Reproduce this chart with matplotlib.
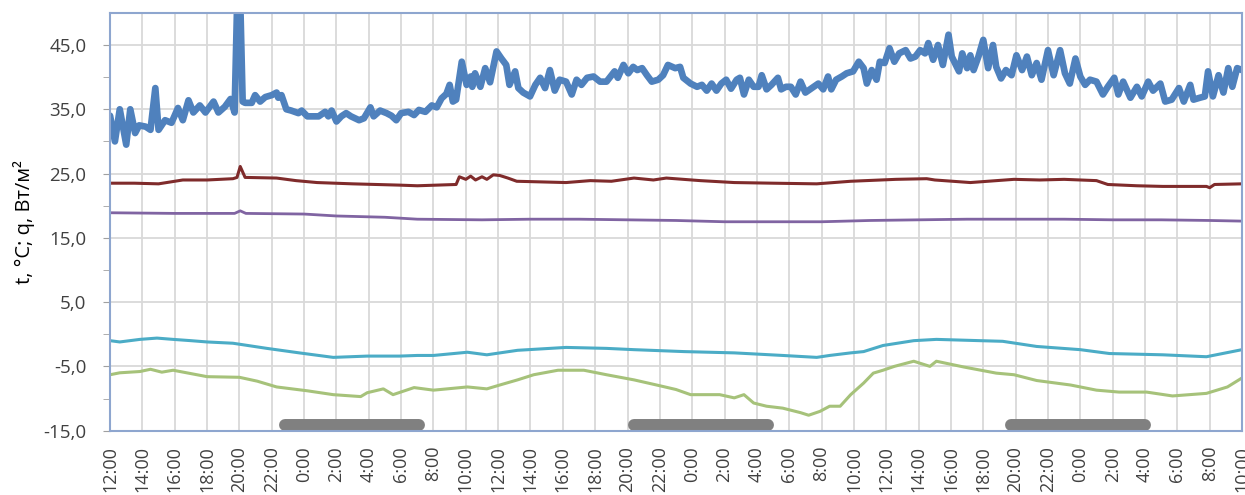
"""Температура и тепловой поток за трое суток (восстановление графика)."""

import matplotlib
matplotlib.use("Agg")
import matplotlib.pyplot as plt
from matplotlib.ticker import MultipleLocator

# --- данные: время в часах от 12:00 первого дня ---
blue_h = [0.0, 0.3, 0.6, 1.0, 1.25, 1.55, 1.8, 2.2, 2.5, 2.8, 3.0, 3.4, 3.8, 4.2, 4.5, 4.85,
          5.15, 5.55, 5.9, 6.4, 6.7, 7.1, 7.45, 7.7, 7.9, 8.05, 8.2, 8.35, 8.76, 8.97, 9.28,
          9.6, 10.0, 10.3, 10.4, 10.6, 10.9, 11.2, 11.65, 11.85, 12.2, 12.6, 12.9, 13.3, 13.5,
          13.7, 14.0, 14.3, 14.6, 14.9, 15.4, 15.7, 16.1, 16.3, 16.7, 17.1, 17.4, 17.7, 18.0,
          18.45, 18.8, 19.1, 19.5, 19.9, 20.2, 20.5, 20.8, 21.0, 21.2, 21.4, 21.75, 22.05,
          22.3, 22.4, 22.57, 22.9, 23.2, 23.5, 23.9, 24.2, 24.5, 24.7, 25.05, 25.25, 25.55,
          25.97, 26.3, 26.6, 26.9, 27.2, 27.5, 27.8, 28.2, 28.55, 28.85, 29.15, 29.5, 29.9,
          30.3, 30.7, 31.2, 31.4, 31.75, 32.05, 32.35, 32.6, 32.9, 33.2, 33.5, 33.9, 34.2,
          34.5, 34.95, 35.25, 35.45, 35.9, 36.3, 36.6, 36.9, 37.2, 37.5, 37.8, 38.1, 38.4,
          38.75, 38.95, 39.2, 39.5, 39.8, 40.1, 40.3, 40.6, 40.9, 41.3, 41.5, 41.8, 42.1,
          42.4, 42.7, 43.0, 43.4, 43.8, 44.1, 44.4, 44.6, 44.9, 45.25, 45.55, 45.95, 46.3,
          46.6, 46.8, 47.1, 47.4, 47.6, 47.9, 48.2, 48.5, 48.8, 49.2, 49.5, 49.8, 50.1, 50.4,
          50.6, 50.9, 51.2, 51.5, 51.85, 52.05, 52.5, 52.7, 53.0, 53.2, 53.4, 53.7, 54.0,
          54.3, 54.6, 54.8, 55.1, 55.4, 55.75, 56.05, 56.4, 56.7, 57.0, 57.3, 57.6, 58.0,
          58.35, 58.75, 59.05, 59.35, 59.7, 60.0, 60.3, 60.6, 61.0, 61.4, 61.7, 62.1, 62.35,
          62.65, 63.1, 63.5, 63.8, 64.2, 64.5, 64.95, 65.25, 65.65, 66.1, 66.4, 66.8, 67.0,
          67.4, 67.7, 67.9, 68.2, 68.55, 68.85, 69.15, 69.4, 69.7, 70.0]
blue_v = [34.0, 30.0, 35.0, 29.5, 35.0, 31.3, 32.5, 32.3, 31.8, 38.3, 31.8, 33.3, 32.9, 35.2,
          33.3, 36.4, 34.5, 35.6, 34.5, 36.2, 34.5, 35.4, 36.6, 34.5, 56.0, 52.0, 36.2, 36.0,
          36.0, 37.2, 36.2, 36.9, 37.2, 37.6, 36.8, 37.2, 35.0, 34.8, 34.4, 34.8, 33.9, 33.9,
          33.9, 34.6, 33.9, 34.8, 33.1, 33.9, 34.4, 33.9, 33.3, 33.6, 35.3, 33.9, 34.8, 34.4,
          34.0, 33.3, 34.4, 34.6, 34.1, 34.9, 34.6, 35.6, 35.3, 36.7, 37.4, 38.8, 36.2, 36.5,
          42.4, 38.8, 40.1, 38.5, 40.6, 38.5, 41.4, 39.2, 44.0, 42.9, 41.9, 38.8, 40.9, 38.3,
          37.6, 37.0, 38.8, 39.9, 38.3, 41.1, 37.9, 39.6, 39.3, 37.3, 39.6, 38.8, 39.9, 40.1,
          39.3, 39.3, 40.9, 39.9, 41.9, 40.6, 41.6, 41.1, 41.4, 40.3, 39.3, 39.6, 40.3, 41.9,
          41.4, 41.6, 39.9, 39.0, 38.5, 38.8, 37.9, 39.0, 37.9, 39.0, 39.6, 38.2, 39.6, 39.9,
          37.3, 39.6, 38.5, 38.5, 40.3, 38.1, 38.8, 39.9, 38.1, 38.5, 38.5, 37.3, 39.3, 37.6,
          38.3, 39.0, 38.1, 40.1, 38.1, 39.6, 40.1, 40.6, 40.9, 42.4, 41.4, 39.0, 41.1, 39.6,
          42.4, 42.2, 44.5, 42.4, 43.7, 44.2, 42.9, 43.2, 44.2, 43.7, 45.3, 42.7, 45.0, 41.9,
          46.6, 43.2, 40.9, 43.7, 41.4, 43.4, 41.1, 43.2, 45.8, 41.4, 45.0, 41.6, 39.8, 41.1,
          40.3, 43.4, 41.1, 43.2, 40.3, 42.2, 39.6, 44.2, 40.3, 44.2, 40.6, 39.0, 42.9, 40.1,
          38.8, 39.6, 39.3, 37.3, 38.5, 39.9, 37.3, 39.3, 36.8, 38.5, 37.0, 39.3, 37.9, 39.0,
          36.2, 36.5, 38.3, 36.2, 38.8, 36.5, 36.8, 37.0, 40.9, 37.0, 40.3, 37.6, 41.4, 38.5,
          41.4, 41.1]

red_h = [0.0, 1.5, 3.0, 4.5, 6.0, 7.6, 7.85, 8.05, 8.35, 10.3, 11.5, 12.8, 15.0, 17.9, 19.0,
         21.4, 21.6, 22.0, 22.3, 22.6, 23.0, 23.3, 23.7, 24.1, 24.6, 25.15, 28.2, 29.7, 31.0,
         32.4, 33.6, 34.4, 36.5, 38.6, 41.0, 43.7, 45.8, 48.6, 50.5, 51.0, 53.2, 55.9, 57.5,
         59.0, 61.0, 61.7, 63.5, 65.1, 67.8, 68.0, 68.3, 70.0]
red_v = [23.5, 23.5, 23.4, 24.0, 24.0, 24.2, 24.4, 26.1, 24.4, 24.3, 23.9, 23.6, 23.4, 23.2,
         23.1, 23.3, 24.5, 24.1, 24.6, 24.0, 24.5, 24.1, 24.8, 24.7, 24.3, 23.8, 23.6, 23.9,
         23.8, 24.3, 24.0, 24.3, 23.9, 23.6, 23.5, 23.4, 23.8, 24.1, 24.2, 24.0, 23.6, 24.1,
         24.0, 24.1, 23.9, 23.3, 23.1, 23.0, 23.0, 22.8, 23.3, 23.4]

purple_h = [0.0, 4.0, 7.7, 8.05, 8.4, 12.0, 14.0, 17.0, 19.0, 23.0, 26.0, 29.0, 32.0, 35.0,
            38.0, 41.0, 44.0, 47.0, 50.0, 53.0, 56.0, 59.0, 62.0, 65.0, 68.0, 70.0]
purple_v = [18.9, 18.8, 18.8, 19.2, 18.8, 18.7, 18.4, 18.2, 17.9, 17.8, 17.9, 17.9, 17.8, 17.7,
            17.5, 17.5, 17.5, 17.7, 17.8, 17.9, 17.9, 17.9, 17.8, 17.8, 17.7, 17.6]

cyan_h = [0.0, 0.6, 1.85, 2.9, 3.9, 5.0, 6.0, 7.6, 9.7, 11.7, 13.8, 15.9, 17.9, 19.0, 20.0,
          22.1, 23.3, 25.2, 28.2, 30.7, 32.4, 35.5, 38.6, 41.6, 43.7, 44.5, 45.8, 46.6, 47.8,
          49.7, 51.1, 53.8, 55.2, 57.3, 60.0, 61.8, 65.1, 67.8, 70.0]
cyan_v = [-1.0, -1.2, -0.8, -0.6, -0.8, -1.0, -1.2, -1.4, -2.2, -2.9, -3.6, -3.4, -3.4, -3.3,
          -3.3, -2.8, -3.2, -2.5, -2.05, -2.2, -2.4, -2.7, -2.9, -3.3, -3.6, -3.3, -2.9, -2.7,
          -1.75, -1.0, -0.8, -1.0, -1.1, -1.9, -2.4, -3.0, -3.2, -3.5, -2.4]

green_h = [0.0, 0.6, 1.85, 2.5, 3.2, 3.9, 6.0, 8.0, 9.1, 10.3, 12.2, 13.8, 15.5, 15.9, 16.9,
           17.5, 18.8, 20.0, 22.1, 23.3, 24.1, 25.2, 26.2, 27.7, 29.3, 30.7, 32.4, 33.8, 35.0,
           35.9, 37.7, 38.6, 39.2, 39.8, 40.6, 41.6, 42.7, 43.2, 43.9, 44.5, 45.15, 45.8,
           46.6, 47.2, 47.8, 48.5, 49.7, 50.7, 51.1, 52.8, 54.8, 55.9, 57.3, 59.4, 61.0, 62.4,
           64.1, 65.7, 67.8, 69.1, 70.0]
green_v = [-6.3, -6.0, -5.8, -5.45, -5.9, -5.6, -6.6, -6.7, -7.3, -8.2, -8.8, -9.4, -9.7, -9.1,
           -8.5, -9.4, -8.3, -8.7, -8.2, -8.5, -7.9, -7.1, -6.3, -5.6, -5.6, -6.3, -7.1, -7.9,
           -8.6, -9.4, -9.4, -9.9, -9.4, -10.7, -11.2, -11.5, -12.2, -12.6, -12.0, -11.2,
           -11.2, -9.4, -7.6, -6.05, -5.6, -5.0, -4.2, -5.0, -4.2, -5.1, -6.05, -6.3, -7.2,
           -7.9, -8.7, -9.0, -9.0, -9.6, -9.2, -8.2, -6.8]

# ночные периоды (серые полосы), часы от начала
night_start = [10.8, 32.4, 55.7]
night_end = [19.1, 40.7, 64.0]

tick_hours = list(range(0, 71, 2))
tick_labels = ["12:00", "14:00", "16:00", "18:00", "20:00", "22:00", "0:00", "2:00", "4:00",
               "6:00", "8:00", "10:00", "12:00", "14:00", "16:00", "18:00", "20:00", "22:00",
               "0:00", "2:00", "4:00", "6:00", "8:00", "10:00", "12:00", "14:00", "16:00",
               "18:00", "20:00", "22:00", "0:00", "2:00", "4:00", "6:00", "8:00", "10:00"]

plt.rcParams["font.family"] = ["Open Sans", "DejaVu Sans"]
text_color = "#404040"
spine_color = "#8EA6CF"

fig = plt.figure(figsize=(12.45, 4.95), dpi=100)
ax = fig.add_axes([0.0884, 0.130, 0.9092, 0.844])

ax.plot(green_h, green_v, color="#A6C27A", lw=2.2)
ax.plot(cyan_h, cyan_v, color="#4BACC6", lw=2.2)
ax.plot(purple_h, purple_v, color="#8064A2", lw=2.0)
ax.plot(red_h, red_v, color="#7F2B2B", lw=2.2)
ax.plot(blue_h, blue_v, color="#4F81BD", lw=4.8,
        solid_joinstyle="round", solid_capstyle="round")

for s, e in zip(night_start, night_end):
    ax.plot([s, e], [-14.1, -14.1], color="#808080", lw=8.6,
            solid_capstyle="round", clip_on=False)

ax.set_xlim(0, 70)
ax.set_ylim(-15, 50)
ax.set_xticks(tick_hours)
ax.set_xticklabels(tick_labels, rotation=90, fontsize=13, color=text_color)
ax.set_yticks([-15, -5, 5, 15, 25, 35, 45])
ax.set_yticklabels(["-15,0", "-5,0", "5,0", "15,0", "25,0", "35,0", "45,0"],
                   fontsize=13.5, color=text_color)
ax.set_yticks([-10, 0, 10, 20, 30, 40], minor=True)

ax.tick_params(axis="x", length=0, pad=11)
ax.tick_params(axis="y", which="both", length=5, color="#A0A0A0", pad=12)
ax.grid(True, which="major", color="#D9D9D9", lw=1.3)
ax.set_axisbelow(True)

for sp in ax.spines.values():
    sp.set_color(spine_color)
    sp.set_linewidth(1.5)

ax.set_ylabel("t, °C; q, Вт/м²", fontsize=14.5, color="black", labelpad=6)

fig.savefig("out.png", dpi=100)
